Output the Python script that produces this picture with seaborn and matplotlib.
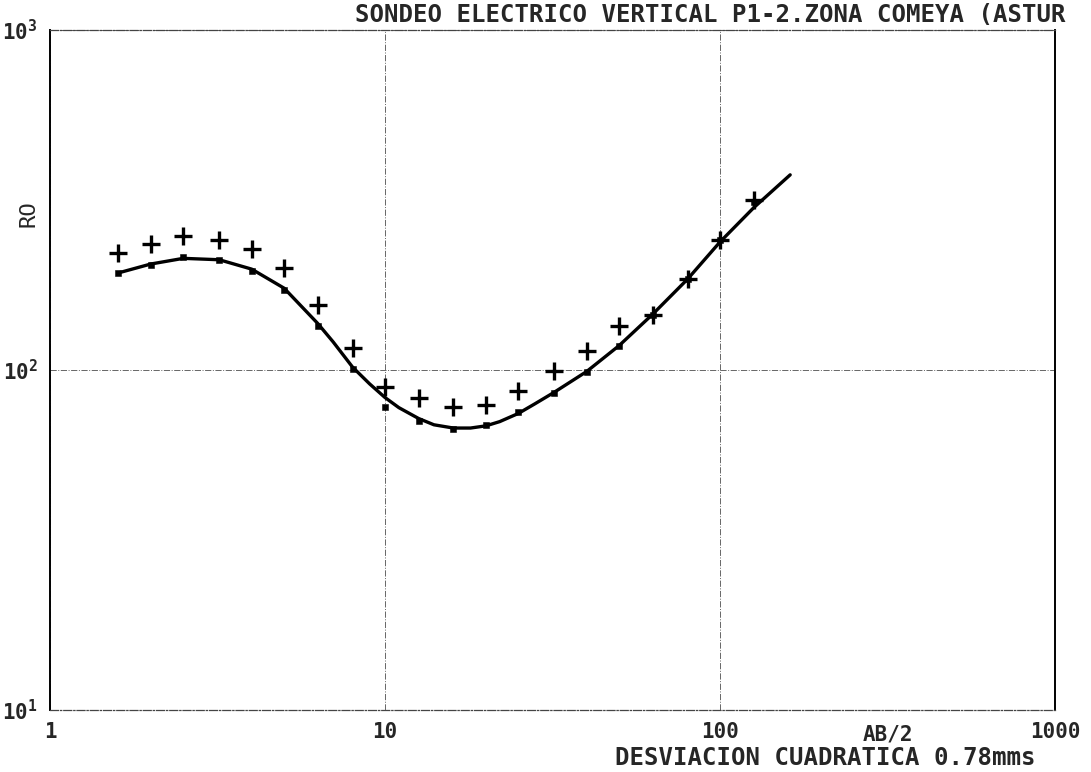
import pandas as pd
import matplotlib.pyplot as plt
import numpy as np
import seaborn as sns

sns.set_style("white")
plt.rcParams['font.family'] = ['DejaVu Sans Mono']
plt.rcParams['font.weight'] = 'bold'
plt.rcParams['mathtext.default'] = 'regular'

# AB/2 spacings (m)
ab2 = [1.6, 2, 2.5, 3.2, 4, 5, 6.3, 8, 10, 12.6, 16, 20, 25, 32, 40, 50, 63, 80, 100, 126]
# measured apparent resistivity (+)
rho_field = [221, 235, 248, 241, 227, 200, 155, 116, 89, 83, 78, 79, 87, 99, 114, 135, 145, 185, 241, 316]
# computed model response at the same spacings
rho_model = [193, 204, 215, 211, 196, 172, 135, 101, 78, 71, 67, 69, 75, 85.5, 98.6, 118, 145, 185, 241, 312]

# smooth model curve
curve_x = [1.6, 2, 2.5, 3.2, 4, 5, 6.3, 7, 8, 9, 10, 11, 12.6, 14, 16, 18, 20, 22, 25, 28, 32, 40, 50, 63, 80, 100, 126, 162]
curve_y = [193, 205, 213, 211, 198, 174, 137, 121, 102, 91, 83, 77.5, 72, 69, 67.5, 67.5, 68.5, 70.5, 74.5, 79.5, 86, 99, 118, 146, 185, 238, 300, 375]

df_pts = pd.DataFrame({'ab2': ab2, 'field': rho_field, 'model': rho_model})
df_curve = pd.DataFrame({'ab2': curve_x, 'rho': curve_y})

fig = plt.figure(figsize=(10.91, 7.72), dpi=100)
ax = fig.add_axes([50/1091, 1 - 710/772, 1005/1091, 680/772])

sns.lineplot(data=df_curve, x='ab2', y='rho', color='black', linewidth=2.4, ax=ax)
sns.scatterplot(data=df_pts, x='ab2', y='model', marker='s', s=22, color='black', edgecolor='black', ax=ax, zorder=3)
sns.scatterplot(data=df_pts, x='ab2', y='field', marker='+', s=150, color='black', linewidth=2.4, ax=ax, zorder=3)

ax.set_xscale('log')
ax.set_yscale('log')
ax.set_xlim(1, 1000)
ax.set_ylim(10, 1000)

ax.set_xticks([1, 10, 100, 1000])
ax.set_xticklabels(['1', '10', '100', '1000'], fontsize=15)
ax.set_yticks([10, 100, 1000])
ax.set_yticklabels(['10$^1$', '10$^2$', '10$^3$'], fontsize=15)
ax.minorticks_off()
ax.tick_params(length=0, pad=9)

ax.grid(True, which='major', linestyle='-.', linewidth=0.7, color='#666666')
for side in ['left', 'right']:
    ax.spines[side].set_color('black')
    ax.spines[side].set_linewidth(1.4)
for side in ['top', 'bottom']:
    ax.spines[side].set_color('#444444')
    ax.spines[side].set_linewidth(0.9)
    ax.spines[side].set_linestyle('-.')

ax.set_xlabel('')
ax.set_ylabel('RO', fontsize=16, labelpad=0)
ax.yaxis.set_label_coords(-0.011, 0.73)

fig.text(355/1091, 1 - 22/772, 'SONDEO ELECTRICO VERTICAL P1-2.ZONA COMEYA (ASTUR',
         fontsize=17.3, ha='left', va='baseline')
fig.text(888/1091, 1 - 740/772, 'AB/2', fontsize=15, ha='center', va='baseline')
fig.text(825/1091, 1 - 765/772, 'DESVIACION CUADRATICA 0.78mms', fontsize=17.3, ha='center', va='baseline')

plt.savefig('out.png', dpi=100)
